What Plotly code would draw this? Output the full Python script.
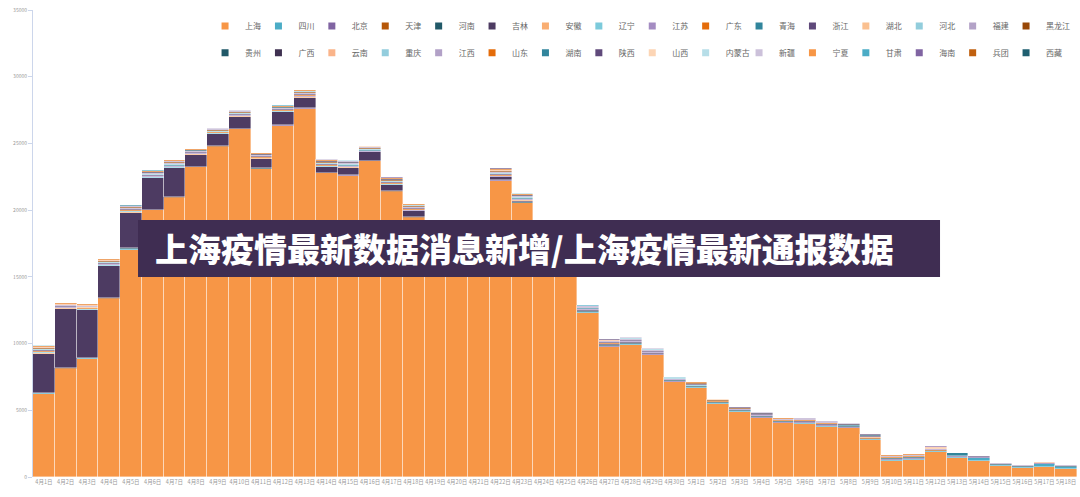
import plotly.graph_objects as go

dates = ["4月1日", "4月2日", "4月3日", "4月4日", "4月5日", "4月6日", "4月7日", "4月8日", "4月9日", "4月10日",
         "4月11日", "4月12日", "4月13日", "4月14日", "4月15日", "4月16日", "4月17日", "4月18日", "4月19日", "4月20日",
         "4月21日", "4月22日", "4月23日", "4月24日", "4月25日", "4月26日", "4月27日", "4月28日", "4月29日", "4月30日",
         "5月1日", "5月2日", "5月3日", "5月4日", "5月5日", "5月6日", "5月7日", "5月8日", "5月9日", "5月10日",
         "5月11日", "5月12日", "5月13日", "5月14日", "5月15日", "5月16日", "5月17日", "5月18日"]

provinces = ["上海", "四川", "北京", "天津", "河南", "吉林", "安徽", "辽宁", "江苏", "广东", "青海", "浙江", "湖北", "河北", "福建", "黑龙江",
             "贵州", "广西", "云南", "重庆", "江西", "山东", "湖南", "陕西", "山西", "内蒙古", "新疆", "宁夏", "甘肃", "海南", "兵团", "西藏"]

shanghai = [6250, 8100, 8875, 13350, 17050, 19975, 20900, 23200, 24750, 26050, 23075, 26325, 27600, 22750, 22575, 23650,
            21375, 19425, 18300, 18200, 17500, 22200, 20500, 19050, 16900, 12325, 9750, 9925, 9125, 7125, 6700, 5500,
            4900, 4425, 4050, 4000, 3775, 3675, 2800, 1200, 1300, 1875, 1450, 1175, 825, 700, 725, 575]
sichuan = [10, 10, 10, 15, 20, 15, 15, 10, 10, 20, 15, 15, 10, 10, 15, 10, 10, 10, 10, 10, 10, 10, 10, 5,
           5, 10, 10, 10, 10, 10, 10, 10, 15, 20, 20, 20, 25, 20, 30, 40, 40, 60, 50, 275, 60, 40, 250, 150]
beijing = [10, 10, 15, 10, 10, 10, 10, 10, 10, 10, 10, 10, 10, 10, 10, 10, 10, 10, 10, 10, 10, 20, 30, 25,
           35, 40, 50, 50, 55, 55, 60, 60, 55, 65, 50, 70, 70, 60, 50, 80, 60, 50, 50, 40, 40, 30, 50, 40]
tianjin = [20, 30, 20, 30, 40, 30, 30, 20, 20, 20, 15, 20, 20, 15, 15, 10, 10, 10, 10, 10, 5, 5, 5, 5,
           5, 10, 10, 10, 5, 5, 5, 5, 5, 10, 10, 5, 5, 5, 10, 10, 15, 20, 10, 10, 10, 10, 10, 10]
henan = [10, 10, 10, 10, 10, 10, 10, 10, 10, 10, 10, 10, 10, 10, 10, 10, 10, 20, 20, 20, 20, 30, 40, 20,
         30, 60, 60, 60, 50, 40, 40, 30, 40, 50, 40, 60, 60, 40, 60, 90, 80, 40, 40, 20, 20, 20, 20, 20]
jilin = [2950, 4450, 3575, 2400, 2680, 2340, 2160, 900, 875, 900, 725, 945, 775, 430, 550, 635,
         460, 425, 280, 230, 180, 200, 130, 80, 80, 80, 60, 60, 50, 40, 30, 25,
         20, 20, 15, 15, 10, 10, 5, 5, 5, 5, 5, 0, 0, 0, 0, 0]
anhui = [30, 25, 30, 35, 40, 40, 45, 30, 30, 30, 25, 30, 35, 35, 30, 25, 30, 30, 20, 20, 15, 30, 25, 5,
         10, 15, 20, 15, 15, 10, 10, 5, 5, 10, 10, 10, 10, 5, 10, 5, 5, 5, 0, 0, 5, 5, 0, 5]
liaoning = [60, 40, 45, 55, 60, 60, 65, 45, 40, 40, 35, 40, 45, 40, 35, 30, 35, 30, 20, 20, 15, 25, 20, 5,
            5, 10, 10, 10, 10, 5, 5, 5, 5, 5, 5, 5, 5, 5, 5, 5, 5, 5, 0, 0, 0, 0, 0, 0]
jiangsu = [40, 30, 30, 35, 40, 45, 50, 35, 35, 35, 30, 40, 45, 45, 45, 40, 50, 50, 40, 40, 35, 60, 50, 10,
           20, 30, 35, 30, 30, 20, 25, 15, 15, 20, 20, 25, 25, 15, 20, 15, 15, 15, 0, 5, 10, 10, 5, 10]
guangdong = [60, 40, 45, 50, 55, 55, 60, 40, 45, 45, 45, 55, 60, 60, 60, 50, 60, 60, 45, 45, 40, 80, 60, 15,
             25, 40, 50, 40, 40, 30, 35, 20, 20, 30, 25, 30, 30, 25, 30, 30, 30, 30, 5, 5, 15, 20, 5, 20]
qinghai = [5, 5, 5, 5, 5, 5, 5, 5, 5, 5, 5, 5, 5, 5, 5, 5, 5, 5, 5, 5, 5, 10, 10, 5,
           5, 10, 10, 10, 10, 10, 10, 10, 10, 10, 10, 10, 10, 10, 10, 10, 10, 10, 180, 5, 5, 5, 5, 5]
zhejiang = [55, 35, 40, 45, 50, 55, 60, 40, 40, 45, 40, 50, 55, 55, 55, 45, 55, 55, 35, 35, 30, 65, 50, 10,
            20, 30, 35, 30, 30, 20, 25, 15, 15, 20, 20, 20, 20, 15, 20, 20, 20, 20, 5, 5, 10, 10, 5, 10]
hubei = [10, 5, 5, 5, 5, 10, 10, 5, 5, 5, 5, 5, 5, 5, 5, 5, 5, 5, 5, 5, 5, 10, 10, 5,
         5, 5, 5, 5, 5, 5, 5, 5, 5, 5, 5, 5, 5, 5, 5, 5, 5, 5, 0, 0, 5, 5, 0, 5]
hebei = [55, 40, 45, 50, 55, 60, 60, 45, 45, 45, 40, 50, 55, 55, 55, 45, 55, 55, 35, 35, 30, 60, 45, 10,
         15, 25, 30, 30, 25, 15, 20, 10, 10, 15, 15, 20, 20, 10, 15, 15, 15, 15, 0, 0, 5, 5, 0, 5]
fujian = [45, 30, 35, 40, 45, 45, 50, 35, 35, 35, 35, 40, 45, 45, 45, 35, 45, 45, 30, 30, 25, 50, 40, 10,
          15, 20, 25, 25, 25, 15, 20, 10, 10, 15, 15, 15, 15, 10, 15, 15, 15, 15, 0, 0, 5, 10, 5, 10]
heilongjiang = [60, 40, 40, 50, 55, 55, 60, 40, 40, 45, 40, 50, 60, 60, 55, 45, 55, 55, 35, 35, 30, 70, 55, 10,
                20, 30, 40, 35, 35, 25, 30, 15, 15, 20, 20, 25, 25, 20, 25, 25, 25, 25, 0, 5, 10, 15, 5, 15]
guizhou = [5, 5, 5, 5, 5, 5, 5, 5, 5, 5, 5, 5, 5, 5, 5, 5, 5, 5, 5, 5, 5, 5, 5, 0,
           0, 5, 5, 5, 5, 5, 5, 5, 5, 5, 5, 5, 5, 5, 5, 5, 5, 5, 0, 0, 0, 0, 0, 0]
guangxi = [30, 20, 20, 25, 25, 25, 30, 20, 20, 20, 20, 25, 30, 30, 30, 20, 30, 30, 20, 20, 15, 40, 30, 5,
           10, 15, 20, 15, 15, 10, 15, 10, 10, 15, 10, 15, 15, 10, 15, 10, 10, 10, 0, 0, 5, 5, 0, 5]
yunnan = [20, 15, 15, 15, 15, 15, 15, 15, 15, 15, 15, 15, 20, 20, 20, 15, 20, 20, 15, 15, 15, 25, 20, 5,
          10, 10, 15, 15, 15, 10, 10, 10, 10, 10, 10, 10, 10, 10, 10, 10, 10, 10, 0, 0, 5, 5, 5, 5]
chongqing = [10, 5, 5, 5, 5, 5, 5, 5, 5, 5, 5, 5, 5, 5, 5, 5, 5, 5, 5, 5, 5, 10, 10, 0,
             5, 5, 5, 5, 5, 5, 5, 5, 5, 5, 5, 5, 5, 5, 5, 5, 5, 5, 0, 0, 0, 0, 0, 0]
jiangxi = [25, 15, 20, 20, 20, 20, 25, 15, 15, 15, 15, 20, 25, 25, 25, 20, 25, 25, 15, 15, 15, 30, 25, 5,
           10, 15, 15, 15, 15, 10, 10, 10, 10, 10, 10, 15, 15, 10, 10, 10, 10, 10, 0, 0, 5, 5, 5, 5]
shandong = [60, 45, 45, 50, 55, 55, 60, 40, 40, 45, 40, 50, 60, 60, 55, 45, 55, 55, 35, 35, 30, 70, 55, 10,
            20, 30, 40, 35, 35, 25, 25, 15, 15, 25, 20, 25, 25, 20, 25, 20, 20, 20, 0, 5, 10, 10, 5, 10]
hunan = [10, 5, 5, 10, 10, 10, 10, 5, 5, 5, 5, 5, 5, 5, 5, 5, 5, 5, 5, 5, 5, 10, 10, 0,
         5, 5, 5, 5, 5, 5, 5, 5, 5, 5, 5, 5, 5, 5, 5, 5, 5, 5, 0, 0, 0, 0, 0, 0]
shaanxi = [10, 5, 5, 5, 5, 5, 5, 5, 5, 5, 5, 5, 5, 5, 5, 5, 5, 5, 5, 5, 5, 10, 5, 0,
           0, 5, 5, 5, 5, 5, 5, 5, 5, 5, 5, 5, 5, 5, 5, 5, 5, 5, 0, 0, 0, 0, 0, 0]
shanxi = [10, 5, 5, 5, 5, 5, 5, 5, 5, 5, 5, 5, 5, 5, 5, 5, 5, 5, 5, 5, 5, 5, 5, 0,
          0, 5, 5, 5, 5, 5, 5, 5, 5, 5, 5, 5, 5, 5, 5, 5, 5, 5, 0, 0, 0, 0, 0, 0]
neimenggu = [10, 5, 5, 5, 5, 5, 5, 5, 5, 5, 5, 5, 5, 5, 5, 5, 5, 5, 5, 5, 5, 10, 5, 0,
             0, 5, 5, 5, 5, 5, 5, 5, 5, 5, 5, 5, 5, 5, 5, 5, 5, 5, 0, 0, 0, 0, 0, 0]
xinjiang = [5, 5, 5, 5, 5, 5, 5, 5, 5, 5, 5, 5, 5, 5, 5, 5, 5, 5, 5, 5, 5, 10, 5, 0,
            0, 5, 5, 5, 5, 5, 5, 5, 5, 5, 5, 5, 5, 5, 5, 5, 5, 5, 0, 0, 0, 0, 0, 0]
ningxia = [5, 0, 0, 0, 5, 5, 5, 0, 0, 0, 0, 5, 5, 5, 5, 5, 5, 5, 0, 0, 0, 5, 5, 0,
           0, 5, 5, 5, 5, 0, 0, 0, 0, 0, 0, 0, 0, 0, 0, 0, 0, 0, 0, 0, 0, 0, 0, 0]
gansu = [5, 5, 5, 5, 5, 5, 5, 5, 5, 5, 5, 5, 5, 5, 5, 5, 5, 5, 5, 5, 5, 10, 5, 0,
         0, 5, 5, 5, 5, 5, 5, 5, 5, 5, 5, 5, 5, 5, 5, 5, 5, 5, 0, 0, 0, 0, 0, 0]
hainan = [5, 5, 5, 5, 5, 5, 5, 5, 5, 5, 5, 5, 5, 5, 5, 5, 5, 5, 5, 5, 5, 5, 5, 0,
          0, 5, 5, 5, 5, 5, 5, 5, 5, 5, 5, 5, 5, 5, 5, 5, 5, 5, 0, 0, 5, 5, 0, 5]
bingtuan = [0, 0, 0, 0, 0, 0, 0, 0, 0, 0, 0, 0, 0, 0, 0, 0, 0, 0, 0, 0, 0, 0, 0, 0,
            0, 0, 0, 0, 0, 0, 0, 0, 0, 0, 0, 0, 0, 0, 0, 0, 0, 0, 0, 0, 0, 0, 0, 0]
xizang = [0, 0, 0, 0, 0, 0, 0, 0, 0, 0, 0, 0, 0, 0, 0, 0, 0, 0, 0, 0, 0, 0, 0, 0,
          0, 0, 0, 0, 0, 0, 0, 0, 0, 0, 0, 0, 0, 0, 0, 0, 0, 0, 0, 0, 0, 0, 0, 0]

series = [shanghai, sichuan, beijing, tianjin, henan, jilin, anhui, liaoning, jiangsu, guangdong, qinghai, zhejiang,
          hubei, hebei, fujian, heilongjiang, guizhou, guangxi, yunnan, chongqing, jiangxi, shandong, hunan, shaanxi,
          shanxi, neimenggu, xinjiang, ningxia, gansu, hainan, bingtuan, xizang]

colors = ["#f79646", "#4bacc6", "#8064a2", "#b65708", "#215968", "#4d3b62", "#f9ae72", "#7ccadb",
          "#a48cc2", "#e46c0a", "#31859c", "#5f497a", "#fac090", "#92cddc", "#b3a2c7", "#984807",
          "#215968", "#3f3151", "#fab48a", "#93cddd", "#b2a1c7", "#e46c0a", "#31859c", "#604a7b",
          "#fcd5b5", "#b7dee8", "#ccc1da", "#f79646", "#4bacc6", "#8064a2", "#c0600f", "#1f5f70"]

FONT = "Noto Sans CJK SC"

fig = go.Figure()
for name, vals, col in zip(provinces, series, colors):
    fig.add_trace(go.Bar(
        x=dates, y=vals, name=name, legendgroup=name, showlegend=False,
        marker=dict(color=col, line=dict(color="rgba(255,255,255,0.55)", width=0.7)),
    ))

for i, (name, col) in enumerate(zip(provinces, colors)):
    fig.add_trace(go.Scatter(
        x=[None], y=[None], mode="markers", name=name, legendgroup=name,
        legend="legend" if i < 16 else "legend2",
        legendwidth=30 if i in (15, 31) else 8.4,
        marker=dict(symbol="square", size=7, color=col),
        hoverinfo="skip",
    ))

leg_common = dict(orientation="h", xanchor="left", yanchor="middle", x=0.1648,
                  entrywidth=8.4, entrywidthmode="pixels", bgcolor="rgba(0,0,0,0)",
                  font=dict(family=FONT, size=8, color="#666666"), tracegroupgap=0,
                  itemclick=False, itemdoubleclick=False)

fig.update_layout(
    width=1080, height=497,
    margin=dict(l=33, r=3, t=10, b=20, autoexpand=False),
    barmode="stack", bargap=0,
    plot_bgcolor="white", paper_bgcolor="white",
    font=dict(family=FONT),
    legend=dict(y=0.9657, **leg_common),
    legend2=dict(y=0.9086, **leg_common),
    xaxis=dict(type="category", showgrid=False, showline=False, ticks="", zeroline=False,
               tickfont=dict(family=FONT, size=5.5, color="#999999"), tickangle=0),
    yaxis=dict(range=[0, 35000], dtick=5000, tickformat="d", showgrid=False, zeroline=False,
               showline=True, linecolor="#ccd6eb", linewidth=1,
               ticks="outside", ticklen=4, tickcolor="#ccd6eb",
               tickfont=dict(family=FONT, size=5, color="#999999")),
    shapes=[dict(type="rect", xref="paper", yref="paper", x0=0.1006, x1=0.8688, y0=0.4283, y1=0.5503,
                 fillcolor="#3f2d52", line=dict(width=0), layer="above")],
    annotations=[dict(text="上海疫情最新数据消息新增/上海疫情最新通报数据", xref="paper", yref="paper",
                      x=0.1149, y=0.4904, xanchor="left", yanchor="middle", showarrow=False,
                      font=dict(family=FONT, size=33, color="white", weight=900))],
)

fig.write_html("out.html")
